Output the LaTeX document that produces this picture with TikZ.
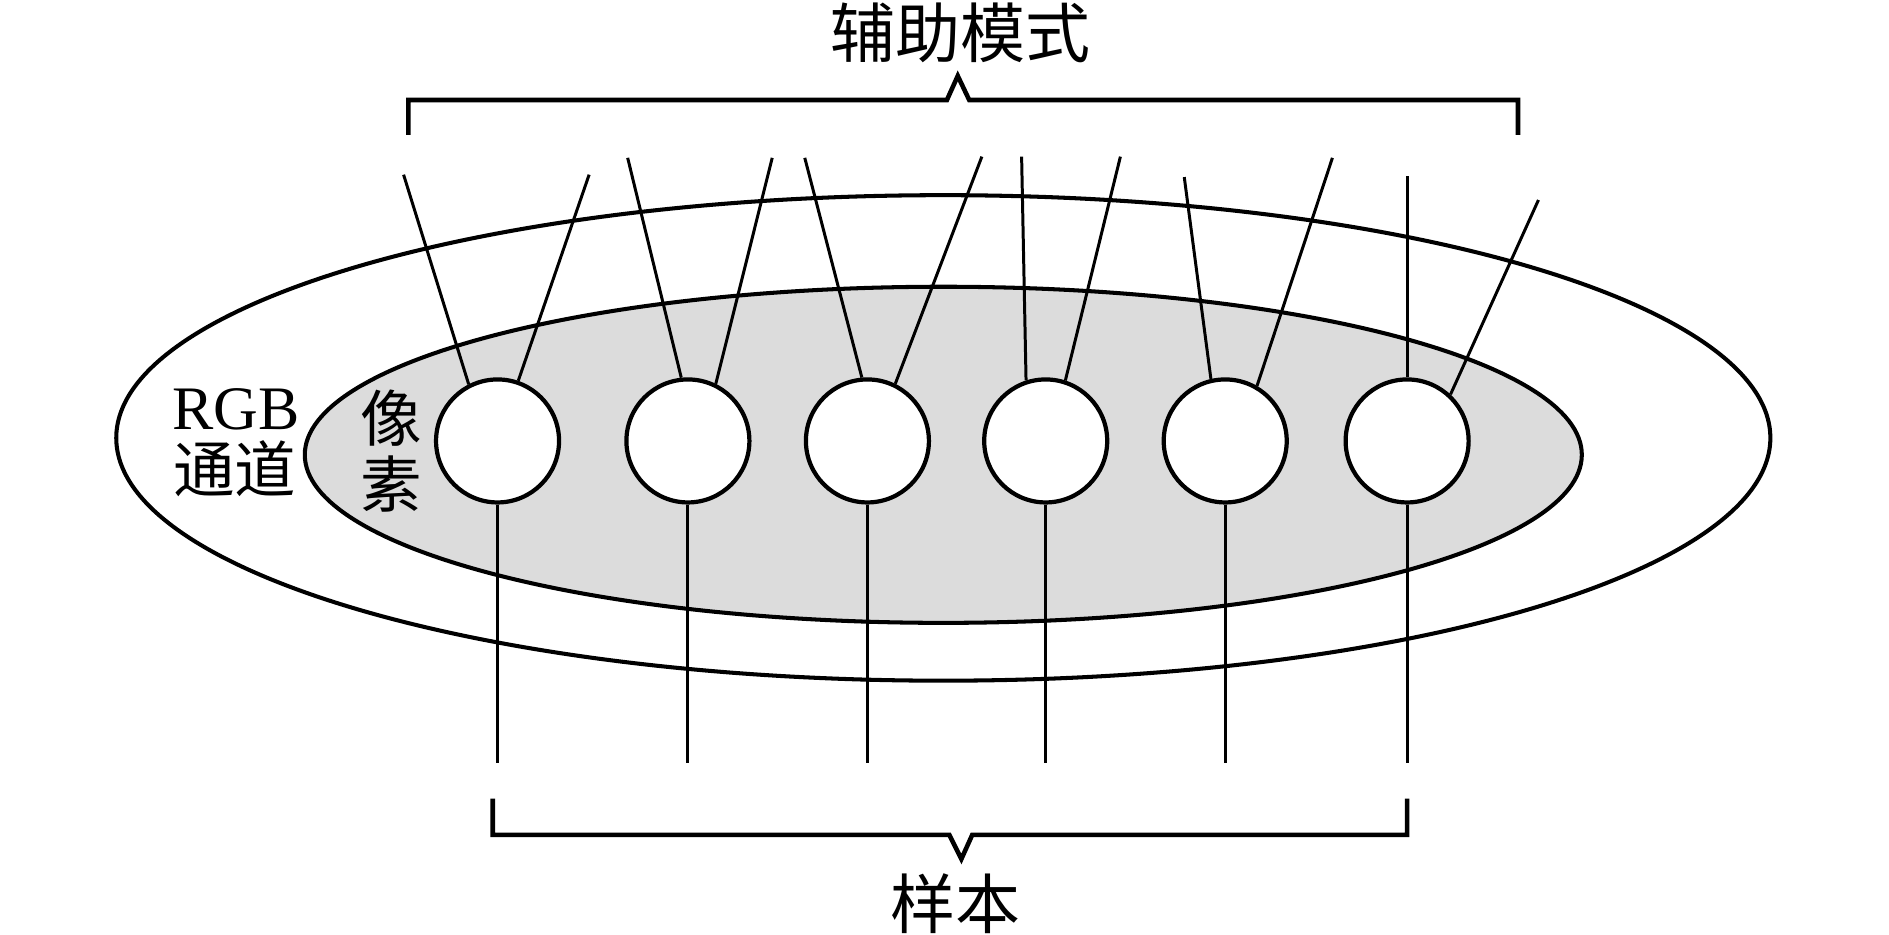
\documentclass[tikz,border=0pt]{standalone}
\usepackage{fontspec}
\setmainfont{Liberation Serif}
\newfontfamily\cjk{Noto Sans CJK SC}
\usepackage{tikz}
\definecolor{pixgray}{RGB}{220,220,220}

\begin{document}
\begin{tikzpicture}[x=1.2047cm,y=1.2047cm,
  ring/.style={black,line width=1.15pt},
  px/.style={draw,black,fill=white,circle,line width=1.2pt,minimum size=1.23cm,inner sep=0pt},
  wire/.style={black,line width=0.85pt},
  brace/.style={black,line width=1.3pt,line join=miter},
  lbl/.style={inner sep=0pt,font=\fontsize{18.5}{22}\selectfont}]
\useasboundingbox (0,0) rectangle (15.68,7.76);

\draw[ring] (7.83,4.125) ellipse [x radius=6.865, y radius=2.015];
\draw[ring,fill=pixgray] (7.83,3.985) ellipse [x radius=5.30, y radius=1.395];

%pixels
\node[px] (p1) at (4.13,4.10) {};
\node[px] (p2) at (5.71,4.10) {};
\node[px] (p3) at (7.20,4.10) {};
\node[px] (p4) at (8.68,4.10) {};
\node[px] (p5) at (10.17,4.10) {};
\node[px] (p6) at (11.68,4.10) {};

%top ends
\coordinate (t1a) at (3.35,6.31);
\coordinate (t1b) at (4.89,6.31);
\coordinate (t2a) at (5.21,6.45);
\coordinate (t2b) at (6.41,6.45);
\coordinate (t3a) at (6.68,6.45);
\coordinate (t3b) at (8.15,6.46);
\coordinate (t4a) at (8.48,6.46);
\coordinate (t4b) at (9.30,6.46);
\coordinate (t5a) at (9.83,6.29);
\coordinate (t5b) at (11.06,6.45);
\coordinate (t6a) at (11.68,6.30);
\coordinate (t6b) at (12.77,6.10);

\draw[wire] (p1.117) -- (t1a);
\draw[wire] (p1.71) -- (t1b);
\draw[wire] (p2.96) -- (t2a);
\draw[wire] (p2.64) -- (t2b);
\draw[wire] (p3.95) -- (t3a);
\draw[wire] (p3.64) -- (t3b);
\draw[wire] (p4.108) -- (t4a);
\draw[wire] (p4.72) -- (t4b);
\draw[wire] (p5.103) -- (t5a);
\draw[wire] (p5.60) -- (t5b);
\draw[wire] (p6.90) -- (t6a);
\draw[wire] (p6.47) -- (t6b);

%bottom ends
\coordinate (b1) at (4.13,1.43);
\coordinate (b2) at (5.71,1.43);
\coordinate (b3) at (7.20,1.43);
\coordinate (b4) at (8.68,1.43);
\coordinate (b5) at (10.17,1.43);
\coordinate (b6) at (11.68,1.43);

\draw[wire] (p1.south) -- (b1);
\draw[wire] (p2.south) -- (b2);
\draw[wire] (p3.south) -- (b3);
\draw[wire] (p4.south) -- (b4);
\draw[wire] (p5.south) -- (b5);
\draw[wire] (p6.south) -- (b6);

%braces
\draw[brace] (3.39,6.64) -- (3.39,6.93) -- (7.86,6.93) -- (7.95,7.13) -- (8.045,6.93) -- (12.60,6.93) -- (12.60,6.64);
\draw[brace] (4.09,1.13) -- (4.09,0.83) -- (7.88,0.83) -- (7.98,0.63) -- (8.07,0.83) -- (11.68,0.83) -- (11.68,1.13);

%labels
\node[lbl] (aux) at (7.97,7.49) {\cjk 辅助模式};
\node[lbl] (smp) at (7.93,0.26) {\cjk 样本};

\node[lbl,font=\fontsize{17.6}{20}\selectfont] (rgb) at (1.96,4.36) {RGB};
\node[lbl,font=\fontsize{17.5}{20}\selectfont] (chan) at (1.95,3.87) {\cjk 通道};
\node[lbl,font=\fontsize{17.5}{20}\selectfont] (pixa) at (3.25,4.29) {\cjk 像};
\node[lbl,font=\fontsize{17.5}{20}\selectfont] (pixb) at (3.25,3.74) {\cjk 素};

\end{tikzpicture}
\end{document}
